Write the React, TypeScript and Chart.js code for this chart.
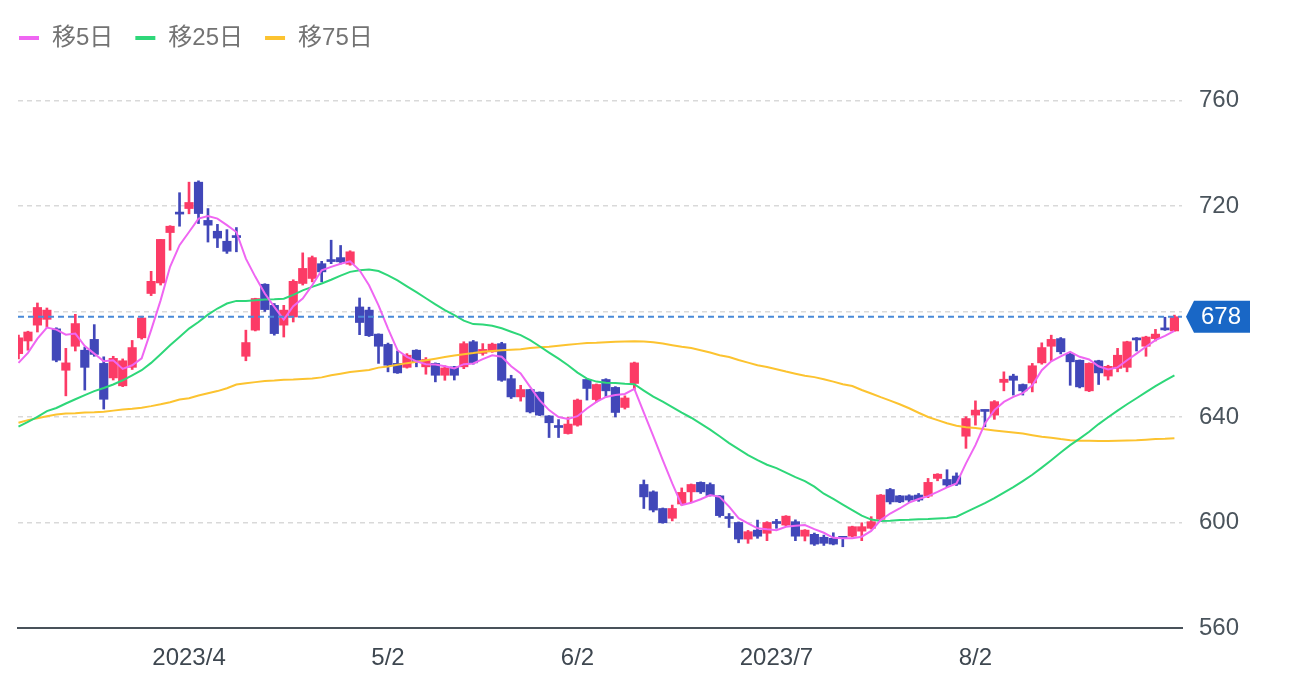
import React, { useEffect, useRef } from 'react';
import { Chart, registerables } from 'chart.js';

Chart.register(...registerables);

// daily candles, 2023/3/7 .. 2023/9/1 (index = trading day)
const open = [
    664, 668.8, 674.8, 677, 673.4, 657.7, 666.8, 665.3, 669.4, 660.3,
    654.8, 651.8, 658.8, 670, 686.8, 690.8, 709.9, 717.3, 719, 729,
    714.5, 710.4, 706.6, 708.4, 663, 672.9, 690.3, 682.3, 674.8, 677.9,
    690.6, 692.5, 698.1, 699.3, 700.4, 697.9, 681.7, 680.5, 671.4, 667.5,
    660.3, 658.8, 665.3, 659, 660.3, 655.8, 659, 659, 668.5, 664.1,
    664.7, 667.8, 654.5, 647.6, 650.4, 649.4, 640.4, 636.4, 633.7, 636.9,
    654.2, 646.6, 654.2, 651.2, 643.6, 652.7, 614.4, 611.6, 605.3, 601.6,
    607, 611.6, 615.2, 614.4, 610.1, 602, 600, 593.7, 597.1, 595.9,
    600, 599, 600.3, 594.8, 595.5, 594.4, 594, 594.3, 594.8, 596.7,
    597.8, 601.2, 612.5, 610.1, 610.1, 610.4, 610, 616.7, 616.3, 617.6,
    632.7, 640.7, 642.5, 640.7, 653.1, 655.5, 652.3, 652.9, 660.5, 666.8,
    669.7, 663.8, 661.5, 649.9, 661.3, 655.5, 658.4, 658.8, 669.6, 666.8,
    669.7, 673.4, 672.6
];
const high = [
    671, 672.5, 683.2, 681.3, 673.8, 666, 678.9, 666.5, 675, 662.8,
    663, 662, 669, 678.2, 695.2, 707.3, 712.5, 725, 729, 729.5,
    719, 713, 711, 711.8, 672.9, 685, 690.5, 683, 682.3, 692,
    702.2, 701, 699, 707, 705, 703, 685.1, 681.6, 671.5, 668,
    665, 664, 665.5, 662.5, 660.5, 659.4, 659.2, 668.5, 669, 667.8,
    668, 668.3, 655.8, 652, 650.5, 649.5, 640.5, 639, 639.8, 646.8,
    654.5, 652.5, 654.5, 651.5, 648, 660.8, 616.1, 612, 605.5, 606.6,
    613.1, 614.6, 615.4, 615, 610.2, 603.4, 600.2, 597, 600.9, 600.3,
    601.2, 602.6, 601, 597.3, 596, 595.2, 596.1, 594.6, 598.6, 599.9,
    602.2, 610.6, 612.9, 610.3, 610.5, 611, 616.7, 618.5, 620, 618.8,
    640.1, 646.1, 642.6, 646.2, 657.1, 656.2, 652.5, 660.3, 668.1, 671,
    670.1, 664.2, 661.6, 660.5, 661.5, 659.6, 666, 668.7, 670.1, 670.6,
    673.2, 677.8, 678.6
];
const low = [
    662, 665.3, 672.2, 674, 660.9, 648, 665, 650.2, 663, 643,
    654, 651.5, 658, 669.5, 686, 690, 703.2, 712.3, 717, 713.3,
    706.3, 704.2, 702, 702.6, 661.3, 672.6, 680, 671, 670.3, 676,
    690, 691.2, 691.2, 698.1, 698, 697.5, 671.2, 670.5, 660.3, 657.1,
    656.5, 658.5, 659, 656.2, 653.3, 653.9, 654, 658.3, 660, 663.4,
    664.5, 653.5, 647, 646, 641.5, 640.5, 632.2, 632.2, 633.5, 636.5,
    646.4, 645.7, 647.6, 640, 643, 650.4, 605.3, 604, 599.7, 600.6,
    606.5, 607.5, 611, 610, 602, 598.1, 592.3, 592.1, 594, 593.1,
    597.8, 598.8, 593.1, 593, 591.3, 591.3, 591.5, 590.8, 594.5, 593.1,
    597.5, 600.8, 607, 607.5, 607.8, 608, 609.4, 615.8, 613.5, 614,
    628.1, 636.9, 636.3, 639.1, 649.9, 648.3, 648.3, 649.5, 660, 661.3,
    663.9, 652, 651, 649.6, 652.3, 654, 657.1, 657.1, 665, 663,
    668.8, 672.8, 672.5
];
const close = [
    670, 672.2, 681.5, 680.5, 661.5, 660.5, 675.4, 658.8, 663.7, 646.7,
    662.2, 661.3, 666.3, 677.5, 691.4, 707.3, 712.3, 716.9, 721.3, 717.1,
    712.7, 707.8, 702.8, 708, 668.2, 684.9, 680.7, 671.6, 680.5, 691.4,
    696.3, 700.4, 695, 698.9, 698.8, 702.6, 675.8, 670.8, 666.8, 659.6,
    656.7, 663.4, 660.9, 661.8, 655.8, 658.6, 655.8, 667.8, 660.5, 665.6,
    667.6, 653.9, 647.6, 650.4, 641.9, 640.7, 637.8, 636, 637.3, 646.4,
    650.8, 652.3, 649.9, 641.7, 647.2, 660.5, 609.7, 604.7, 599.9, 605.3,
    611.4, 614.4, 611.6, 610.2, 602.6, 601.5, 593.7, 596.5, 594.8, 600,
    599.6, 602.4, 594.8, 597.1, 591.8, 592.1, 591.8, 594, 598.4, 598.4,
    600.3, 610.4, 607.8, 607.8, 608.5, 608.5, 615.2, 618.3, 614.2, 614.5,
    639.4, 642.6, 642.1, 645.8, 654.3, 653.9, 649.9, 659.4, 666.3, 669.4,
    664.7, 660.9, 651.4, 660.3, 656.7, 659.2, 663.4, 668.5, 669.2, 670.3,
    671.4, 673, 678
];

const ma5 = [
    660.5, 664.3, 669.7, 673.9, 673.1, 671.2, 671.6, 666.9, 664, 661.1,
    661.5, 658.2, 659.6, 662.2, 672.9, 684.2, 696.9, 705.1, 710.1, 715.2,
    716.2, 715.2, 712.7, 710.1, 700, 693.1, 686.8, 681.7, 676.9, 682,
    684.9, 689.9, 695.6, 696.9, 698.1, 699, 695.6, 689.9, 682.3, 673.5,
    665.3, 662.8, 661.1, 660, 659.9, 659.2, 658.4, 660, 660.3, 661.9,
    663.4, 662.8, 659.2, 656.5, 651.4, 646.4, 642.6, 640, 639.2, 640.3,
    643.2, 645.7, 647.6, 648.3, 648.7, 650.6, 641.6, 632.7, 623.6, 614.8,
    606.6, 607.5, 608.8, 610.4, 609.7, 606, 601.6, 599.7, 597.8, 597.4,
    597.1, 598.4, 598.8, 599, 597.5, 596.1, 594.2, 594, 594, 594.6,
    596.8, 600.9, 603.4, 605.3, 607.5, 608.9, 610, 611.6, 613.3, 614.8,
    622.4, 629.3, 637.5, 642.6, 645.7, 647.6, 649, 652, 657.7, 661.1,
    663, 664.7, 662.8, 661.8, 659.2, 658, 658.8, 661.5, 664, 666.6,
    669.1, 670.7, 672.6
];
const ma25 = [
    636.3, 638.1, 640, 642.2, 643.4, 645.1, 646.7, 648.3, 649.8, 651,
    652.3, 653.9, 655.8, 657.7, 660.5, 663.8, 667.2, 670.3, 673.5, 676,
    678.8, 681.1, 683, 684, 684, 684.2, 684.5, 684.6, 684.8, 686.3,
    688, 689.3, 690.6, 692, 693.6, 695, 695.6, 695.9, 695.3, 693.7,
    691.8, 689.5, 687.3, 685, 682.7, 680.5, 678.6, 676.5, 675.2, 675,
    674.6, 673.6, 672.3, 671, 669.1, 666.8, 664.4, 662.1, 659.6, 656.8,
    654.5, 653.4, 653, 652.9, 652.6, 652.4, 650, 647.7, 645.8, 643.7,
    641.6, 639.7, 637.5, 635.2, 632.7, 630.1, 627.8, 625.5, 623.6, 621.9,
    620.6, 618.9, 617.2, 615.7, 613.6, 610.9, 608.9, 606.8, 604.7, 602.6,
    601.1, 600.6, 600.7, 600.9, 601, 601.2, 601.3, 601.5, 601.7, 602.2,
    603.9, 605.6, 607.3, 609.2, 611.3, 613.4, 615.7, 618.1, 620.8, 623.6,
    626.5, 629.3, 631.8, 634.4, 637.3, 639.9, 642.4, 644.8, 647.1, 649.4,
    651.7, 653.8, 655.8
];
const ma75 = [
    637.8, 638.8, 639.5, 640.3, 640.9, 641.3, 641.4, 641.7, 641.8, 642,
    642.4, 642.8, 643.1, 643.5, 644.1, 644.8, 645.6, 646.6, 647.1, 648.1,
    649, 649.8, 650.9, 652.3, 652.8, 653.2, 653.6, 653.8, 654.1, 654.2,
    654.4, 654.6, 655, 655.8, 656.4, 657, 657.4, 657.8, 658.7, 659.1,
    659.8, 660.4, 660.9, 661.5, 662.1, 662.7, 663.3, 663.8, 664.2, 664.7,
    665, 665.3, 665.5, 665.7, 666.1, 666.4, 666.6, 667, 667.4, 667.7,
    668, 668.1, 668.3, 668.5, 668.6, 668.7, 668.6, 668.3, 667.8, 667.2,
    666.6, 666.1, 665.3, 664.4, 663.4, 662.7, 661.6, 660.6, 659.6, 658.9,
    658.1, 657.2, 656.4, 655.6, 655.1, 654.3, 653.4, 652.4, 651.7, 650.2,
    648.9, 647.5, 646.2, 644.8, 643.3, 641.6, 640, 638.8, 637.6, 636.7,
    636.1, 635.8, 635.3, 634.9, 634.5, 634.1, 633.7, 633.1, 632.5, 632.1,
    631.6, 631.2, 631, 631, 630.9, 630.9, 631, 631.1, 631.2, 631.4,
    631.6, 631.7, 631.9
];

const tickPositions = [18, 39, 59, 80, 101];
const tickLabels = ['2023/4', '5/2', '6/2', '2023/7', '8/2'];
const priceTicks = [560, 600, 640, 680, 720, 760];
const lastPrice = 678;

const UP = '#fc3b66';
const DOWN = '#4147b9';
const FONT = "'Liberation Sans', Arial, 'Noto Sans CJK JP', sans-serif";

const lastPricePlugin = {
    id: 'lastPrice',
    afterDatasetsDraw(chart) {
        const { ctx, chartArea } = chart;
        const y = chart.scales.y.getPixelForValue(lastPrice);
        ctx.save();
        ctx.strokeStyle = '#4a8ad8';
        ctx.lineWidth = 2;
        ctx.setLineDash([6, 4]);
        ctx.beginPath();
        ctx.moveTo(chartArea.left, y);
        ctx.lineTo(chartArea.right, y);
        ctx.stroke();
        ctx.restore();
    },
    afterDraw(chart) {
        const { ctx, chartArea } = chart;
        const y = chart.scales.y.getPixelForValue(lastPrice);
        const tip = chartArea.right + 4;
        const left = tip + 8;
        const right = left + 56;
        const h = 16;
        ctx.save();
        ctx.fillStyle = '#1967c6';
        ctx.beginPath();
        ctx.moveTo(tip, y);
        ctx.lineTo(left, y - h);
        ctx.lineTo(right, y - h);
        ctx.lineTo(right, y + h);
        ctx.lineTo(left, y + h);
        ctx.closePath();
        ctx.fill();
        ctx.fillStyle = '#ffffff';
        ctx.font = `24px ${FONT}`;
        ctx.textAlign = 'center';
        ctx.textBaseline = 'middle';
        ctx.fillText(String(lastPrice), (left + right) / 2 - 1, y + 1);
        ctx.restore();
    }
};

// legend drawn as short thick lines at the top left
const maLegendPlugin = {
    id: 'maLegend',
    afterDraw(chart) {
        const { ctx } = chart;
        let x = 19;
        const y = 38;
        ctx.save();
        ctx.font = `24px ${FONT}`;
        ctx.textBaseline = 'middle';
        chart.data.datasets.filter(d => d.type === 'line').forEach(d => {
            ctx.fillStyle = d.borderColor;
            ctx.fillRect(x, y - 2, 20, 4);
            ctx.fillStyle = '#737373';
            ctx.fillText(d.label, x + 33, y);
            x += 33 + ctx.measureText(d.label).width + 22;
        });
        ctx.restore();
    }
};

export default function App() {
    const canvas = useRef(null);

    useEffect(() => {
        const colors = close.map((c, i) => (c >= open[i] ? UP : DOWN));
        const line = (label, values, color) => ({
            type: 'line',
            label,
            data: values.map((y, x) => ({ x, y })),
            borderColor: color,
            backgroundColor: color,
            borderWidth: 2,
            pointRadius: 0,
            order: 0
        });

        const chart = new Chart(canvas.current, {
            type: 'bar',
            data: {
                datasets: [
                    line('移5日', ma5, '#ef66f2'),
                    line('移25日', ma25, '#2ed779'),
                    line('移75日', ma75, '#fcc330'),
                    {
                        type: 'bar',
                        label: 'body',
                        data: open.map((o, i) => ({ x: i, y: [o, close[i]] })),
                        backgroundColor: colors,
                        barThickness: 8.5,
                        minBarLength: 2,
                        grouped: false,
                        order: 1
                    },
                    {
                        type: 'bar',
                        label: 'wick',
                        data: low.map((l, i) => ({ x: i, y: [l, high[i]] })),
                        backgroundColor: colors,
                        barThickness: 2,
                        grouped: false,
                        order: 2
                    }
                ]
            },
            options: {
                animation: false,
                responsive: true,
                maintainAspectRatio: false,
                layout: { padding: { top: 74, left: 18, right: 0, bottom: 0 } },
                plugins: {
                    legend: { display: false },
                    tooltip: { enabled: false }
                },
                scales: {
                    x: {
                        type: 'linear',
                        min: -0.05,
                        max: 122.8,
                        offset: false,
                        grid: { display: false },
                        border: { display: true, color: '#49525a', width: 2 },
                        ticks: {
                            color: '#3e4750',
                            font: { family: FONT, size: 24 },
                            padding: 8,
                            maxRotation: 0,
                            autoSkip: false,
                            callback: (v) => tickLabels[tickPositions.indexOf(Number(v))] ?? ''
                        },
                        afterBuildTicks: (scale) => {
                            scale.ticks = tickPositions.map(value => ({ value }));
                        },
                        afterFit: (scale) => {
                            scale.height = 58;
                        }
                    },
                    y: {
                        position: 'right',
                        min: 560,
                        max: 770,
                        grid: {
                            color: (c) => (c.tick && c.tick.value === priceTicks[0] ? 'rgba(0,0,0,0)' : '#d9d9d9'),
                            lineWidth: 1.5,
                            drawTicks: false
                        },
                        border: { display: false, dash: [5, 4] },
                        ticks: {
                            color: '#4a545c',
                            font: { family: FONT, size: 24 },
                            padding: 17
                        },
                        afterBuildTicks: (scale) => {
                            scale.ticks = priceTicks.map(value => ({ value }));
                        },
                        afterFit: (scale) => {
                            scale.width = 120;
                        }
                    }
                }
            },
            plugins: [lastPricePlugin, maLegendPlugin]
        });
        return () => {
            chart.destroy();
        };
    }, []);

    return (
        <div style={{ position: 'absolute', left: 0, top: 0, width: 1302, height: 686, background: '#fff' }}>
            <canvas ref={canvas}></canvas>
        </div>
    );
}
